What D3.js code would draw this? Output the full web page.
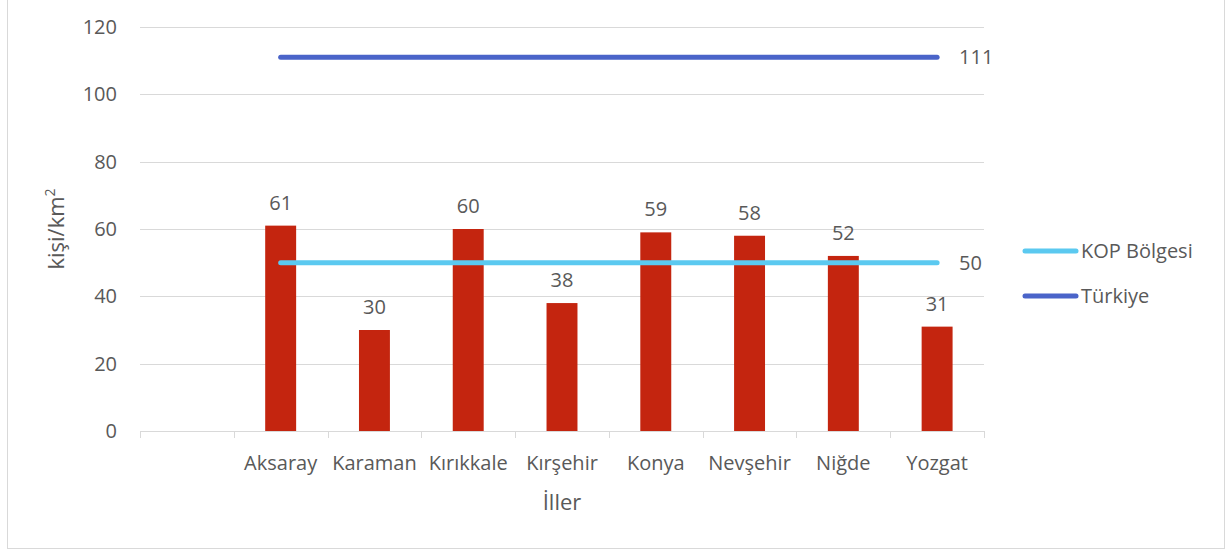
<!DOCTYPE html>
<html>
<head>
<meta charset="utf-8">
<script src="https://cdn.jsdelivr.net/npm/d3@7"></script>
<style>
  body { margin: 0; background: #fff; }
  svg text { font-family: "Open Sans", sans-serif; fill: #595959; }
</style>
</head>
<body>
<script>
var categories = ['', 'Aksaray', 'Karaman', 'Kırıkkale', 'Kırşehir', 'Konya', 'Nevşehir', 'Niğde', 'Yozgat'];
var density = [null, 61, 30, 60, 38, 59, 58, 52, 31];
var kopLine = [null, 50, 50, 50, 50, 50, 50, 50, 50];
var turkiyeLine = [null, 111, 111, 111, 111, 111, 111, 111, 111];
var yTicks = [0, 20, 40, 60, 80, 100, 120];
var seriesNames = ['KOP Bölgesi', 'Türkiye'];

var W = 1229, H = 549;
var plotLeft = 140, plotRight = 984, plotTop = 27, plotBottom = 431;

var svg = d3.select('body').append('svg')
    .attr('width', W)
    .attr('height', H);

// chart border
svg.append('rect')
    .attr('x', 7.5).attr('y', -2)
    .attr('width', 1217).attr('height', 550.5)
    .attr('fill', 'none')
    .attr('stroke', '#d9d9d9');

var x = d3.scaleBand().domain(categories).range([plotLeft, plotRight]).padding(0);
var y = d3.scaleLinear().domain([0, 120]).range([plotBottom, plotTop]);

// gridlines
svg.append('g')
  .selectAll('line')
  .data(yTicks.filter(function(d) { return d > 0; }))
  .enter().append('line')
    .attr('x1', plotLeft).attr('x2', plotRight)
    .attr('y1', function(d) { return Math.round(y(d)) + 0.5; })
    .attr('y2', function(d) { return Math.round(y(d)) + 0.5; })
    .attr('stroke', '#d9d9d9')
    .attr('stroke-width', 1);

// y axis labels
var yAxis = d3.axisLeft(y).tickValues(yTicks).tickSize(0).tickPadding(0);
var gy = svg.append('g')
    .attr('transform', 'translate(117,0)')
    .call(yAxis);
gy.select('.domain').remove();
gy.selectAll('text')
    .style('font-size', '20px')
    .attr('fill', '#595959');

// x axis
var xAxis = d3.axisBottom(x).tickSize(0).tickPadding(0);
var gx = svg.append('g')
    .attr('transform', 'translate(0,' + (plotBottom + 0.5) + ')')
    .call(xAxis);
gx.select('.domain').attr('stroke', '#d9d9d9').attr('d', 'M' + plotLeft + ',0H' + plotRight);
gx.selectAll('text')
    .style('font-size', '20px')
    .attr('fill', '#595959')
    .attr('dy', 0)
    .attr('y', 38);

// tick marks at band boundaries
var bounds = categories.map(function(c) { return x(c); }).concat([plotRight]);
svg.append('g')
  .selectAll('line')
  .data(bounds)
  .enter().append('line')
    .attr('x1', function(d) { return Math.round(d) + 0.5; })
    .attr('x2', function(d) { return Math.round(d) + 0.5; })
    .attr('y1', plotBottom).attr('y2', plotBottom + 7)
    .attr('stroke', '#d9d9d9');

// bars
var bw = x.bandwidth() * 0.33;
var barData = categories.map(function(c, i) { return {cat: c, v: density[i]}; })
    .filter(function(d) { return d.v != null; });

svg.append('g')
  .selectAll('rect')
  .data(barData)
  .enter().append('rect')
    .attr('x', function(d) { return x(d.cat) + (x.bandwidth() - bw) / 2; })
    .attr('y', function(d) { return y(d.v); })
    .attr('width', bw)
    .attr('height', function(d) { return y(0) - y(d.v); })
    .attr('fill', '#c4250f');

svg.append('g')
  .selectAll('text')
  .data(barData)
  .enter().append('text')
    .attr('x', function(d) { return x(d.cat) + x.bandwidth() / 2; })
    .attr('y', function(d) { return y(d.v) - 16; })
    .attr('text-anchor', 'middle')
    .style('font-size', '20px')
    .text(function(d) { return d.v; });

// lines
var lineColors = ['#5bc9f0', '#4a64c9'];
var lineSeries = [kopLine, turkiyeLine];
var line = d3.line()
    .defined(function(d) { return d.v != null; })
    .x(function(d) { return x(d.cat) + x.bandwidth() / 2; })
    .y(function(d) { return y(d.v); });

lineSeries.forEach(function(vals, s) {
  var pts = categories.map(function(c, i) { return {cat: c, v: vals[i]}; });
  svg.append('path')
      .datum(pts)
      .attr('d', line)
      .attr('fill', 'none')
      .attr('stroke', lineColors[s])
      .attr('stroke-width', 5)
      .attr('stroke-linecap', 'round');
  var last = pts[pts.length - 1];
  svg.append('text')
      .attr('x', x(last.cat) + x.bandwidth() / 2 + 22)
      .attr('y', y(last.v) + 7)
      .style('font-size', '20px')
      .text(last.v);
});

// legend
var legend = svg.selectAll('.legend')
    .data(seriesNames)
  .enter().append('g')
    .attr('class', 'legend')
    .attr('transform', function(d, i) { return 'translate(1023,' + (251 + i * 45) + ')'; });

legend.append('line')
    .attr('x1', 2).attr('x2', 53)
    .attr('stroke', function(d, i) { return lineColors[i]; })
    .attr('stroke-width', 5)
    .attr('stroke-linecap', 'round');

legend.append('text')
    .attr('x', 58)
    .attr('y', 7)
    .style('font-size', '20px')
    .text(function(d) { return d; });

// axis titles
svg.append('text')
    .attr('transform', 'translate(64,' + ((plotTop + plotBottom) / 2) + ') rotate(-90)')
    .attr('text-anchor', 'middle')
    .style('font-size', '22px')
    .html('kişi/km<tspan dy="-9" font-size="14px">2</tspan>');

svg.append('text')
    .attr('x', (plotLeft + plotRight) / 2)
    .attr('y', 510)
    .attr('text-anchor', 'middle')
    .style('font-size', '22px')
    .text('İller');
</script>
</body>
</html>
